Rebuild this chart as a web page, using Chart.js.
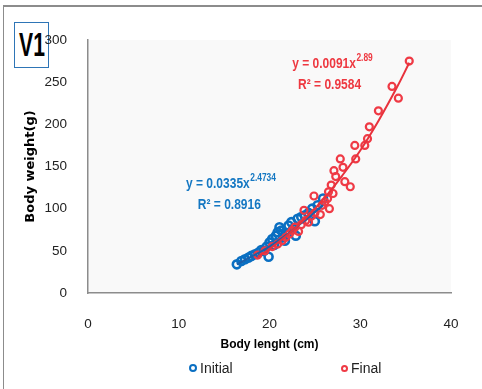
<!DOCTYPE html>
<html>
<head>
<meta charset="utf-8">
<script src="https://cdn.jsdelivr.net/npm/chart.js@4.4.1/dist/chart.umd.min.js"></script>
<style>
  html, body { margin: 0; padding: 0; background: #fff; overflow: hidden; }
  #wrap { position: relative; width: 482px; height: 389px; }
  #frame { position: absolute; left: 3px; top: 5px; width: 520px; height: 420px;
           border-left: 1.5px solid #8c8c8c; border-top: 2px solid #8c8c8c; }
  #tag { position: absolute; left: 14px; top: 22px; width: 33px; height: 44px;
         border: 1.5px solid #2e75b6; background: #fff; overflow: hidden; }
  #tag span { position: absolute; left: -33.5px; width: 100px; top: 3px; text-align: center;
              font: bold 33px "Liberation Sans", sans-serif; line-height: 38px;
              color: #000; transform: scaleX(0.64); }
  .leg { position: absolute; top: 360px; font: 14px "Liberation Sans", sans-serif;
         color: #222; white-space: nowrap; }
  .leg i { display: inline-block; border-radius: 50%; vertical-align: middle; margin-right: 3px;
           position: relative; top: -1px; }
  canvas { position: absolute; left: 0; top: 0; }
</style>
</head>
<body>
<div id="wrap">
  <div id="frame"></div>
  <div id="tag"><span>V1</span></div>
  <canvas id="chart"></canvas>
  <div id="legend"></div>
</div>
<script>
// Initial: body length (cm) / body weight (g)
const initialLength = [16.4, 16.9, 17.3, 17.7, 18.0, 18.4, 18.8, 19.1, 19.4, 19.7, 19.9, 20.0, 20.3, 20.5, 20.7, 20.9, 21.1, 21.3, 21.5, 21.7, 21.9, 22.1, 22.4, 22.6, 22.9, 23.1, 23.5, 23.9, 24.3, 24.7, 25.0, 25.3, 25.9];
const initialWeight = [34, 38, 40, 42, 44, 46, 48, 51, 50, 55, 43, 60, 64, 57, 68, 72, 78, 74, 66, 62, 70, 80, 84, 76, 68, 88, 90, 92, 95, 100, 85, 104, 112];

// Final
const finalLength = [18.7, 19.5, 20.3, 20.9, 21.4, 21.8, 22.2, 22.5, 22.8, 23.2, 23.5, 23.8, 24.0, 24.3, 24.6, 24.9, 25.0, 25.6, 25.8, 26.1, 26.4, 26.5, 26.6, 26.8, 27.0, 27.1, 27.3, 27.8, 28.1, 28.3, 28.9, 29.4, 29.5, 30.5, 30.8, 31.0, 32.0, 33.5, 34.2, 35.4];
const finalWeight = [45, 50, 55, 58, 62, 66, 70, 74, 78, 73, 81, 98, 86, 84, 91, 115, 95, 93, 104, 108, 112, 120, 100, 128, 118, 145, 138, 159, 149, 132, 126, 175, 159, 175, 183, 197, 216, 245, 231, 275];

// power trend lines
const initialTrendX = [16.4, 18, 20, 22, 24, 25.9];
const initialTrendY = [34, 43, 55, 70, 87, 104];
const finalTrendX = [18.7, 20, 22, 24, 26, 28, 30, 32, 34, 35.4];
const finalTrendY = [43, 52, 69, 89, 112, 139, 169, 204, 243, 273];

const seriesNames = ["Initial", "Final"];
const xTicks = [0, 10, 20, 30, 40];
const yTicks = [0, 50, 100, 150, 200, 250, 300];

const blue = "#0a6fc2";
const red = "#ef3a45";
const tickFont = '"Liberation Sans", sans-serif';

const toPoints = (xs, ys) => xs.map((x, i) => ({ x: x, y: ys[i] }));

const equations = [
  { main: "y = 0.0091x", sup: "2.89", second: "R² = 0.9584", x: 22.5, y: 272, x2: 23.15, y2: 247, color: "#ee3840" },
  { main: "y = 0.0335x", sup: "2.4734", second: "R² = 0.8916", x: 10.8, y: 129, x2: 12.1, y2: 105, color: "#1477c2" },
];

const plotBg = {
  id: "plotBg",
  beforeDraw(chart) {
    const { ctx, chartArea: a } = chart;
    ctx.save();
    ctx.fillStyle = "#f9f9f9";
    ctx.fillRect(a.left, a.top, a.right - a.left, a.bottom - a.top);
    ctx.restore();
  },
};

// narrow bold text like the original, by squeezing horizontally
function squeezedText(ctx, text, x, y, sx) {
  ctx.save();
  ctx.translate(x, y);
  ctx.scale(sx, 1);
  ctx.fillText(text, 0, 0);
  ctx.restore();
  return ctx.measureText(text).width * sx;
}

const eqLabels = {
  id: "eqLabels",
  afterDraw(chart) {
    const { ctx, scales } = chart;
    ctx.save();
    ctx.textBaseline = "middle";
    ctx.textAlign = "left";
    equations.forEach((e) => {
      const px = scales.x.getPixelForValue(e.x);
      const py = scales.y.getPixelForValue(e.y);
      ctx.fillStyle = e.color;
      ctx.font = 'bold 15px "Liberation Sans", sans-serif';
      const w = squeezedText(ctx, e.main, px, py, 0.8);
      ctx.font = 'bold 10.5px "Liberation Sans", sans-serif';
      squeezedText(ctx, e.sup, px + w + 0.5, py - 6, 0.8);
      ctx.font = 'bold 15px "Liberation Sans", sans-serif';
      squeezedText(ctx, e.second, scales.x.getPixelForValue(e.x2), scales.y.getPixelForValue(e.y2), 0.8);
    });
    ctx.restore();
  },
};

new Chart(document.getElementById("chart"), {
  type: "scatter",
  data: {
    datasets: [
      {
        label: "Final trend",
        type: "line",
        data: toPoints(finalTrendX, finalTrendY),
        borderColor: "#e8323c",
        borderWidth: 2,
        pointRadius: 0,
        tension: 0.4,
        fill: false,
      },
      {
        label: "Initial trend",
        type: "line",
        data: toPoints(initialTrendX, initialTrendY),
        borderColor: "#1b5fa9",
        borderWidth: 2,
        pointRadius: 0,
        tension: 0.4,
        fill: false,
      },
      {
        label: seriesNames[1],
        data: toPoints(finalLength, finalWeight),
        borderColor: red,
        backgroundColor: "rgba(255,255,255,0)",
        borderWidth: 2.2,
        pointRadius: 3.5,
      },
      {
        label: seriesNames[0],
        data: toPoints(initialLength, initialWeight),
        borderColor: blue,
        backgroundColor: "rgba(255,255,255,0)",
        borderWidth: 2.6,
        pointRadius: 4,
      },
    ],
  },
  options: {
    responsive: true,
    maintainAspectRatio: false,
    animation: false,
    layout: { padding: { top: 40, right: 31, bottom: 36, left: 0 } },
    plugins: {
      legend: { display: false },
      tooltip: { enabled: false },
    },
    scales: {
      x: {
        type: "linear",
        min: xTicks[0],
        max: xTicks[xTicks.length - 1],
        afterBuildTicks: (s) => { s.ticks = xTicks.map((v) => ({ value: v })); },
        afterFit: (s) => { s.height = 60; },
        grid: { display: false },
        border: { display: true, color: "#8c8c8c", width: 1.5 },
        ticks: {
          padding: 15,
          color: "#222",
          font: { family: tickFont, size: 13.5 },
        },
        title: {
          display: true,
          text: "Body lenght (cm)",
          color: "#000",
          padding: { top: 0, bottom: 1 },
          font: { family: '"Liberation Sans", sans-serif', size: 12, weight: "bold" },
        },
      },
      y: {
        type: "linear",
        min: yTicks[0],
        max: yTicks[yTicks.length - 1],
        afterBuildTicks: (s) => { s.ticks = yTicks.map((v) => ({ value: v })); },
        afterFit: (s) => { s.width = 88; },
        grid: { display: false },
        border: { display: true, color: "#8c8c8c", width: 1.5 },
        ticks: {
          padding: 13,
          color: "#222",
          font: { family: tickFont, size: 13.5 },
        },
        title: {
          display: true,
          text: "Body weight(g)",
          color: "#000",
          padding: { top: 23, bottom: 0 },
          font: { family: '"DejaVu Sans", sans-serif', size: 13, weight: "bold" },
        },
      },
    },
  },
  plugins: [plotBg, eqLabels],
});

// legend, laid out wide like the original
const legendPos = [189, 341];
const legendMark = [
  { color: blue, size: 4, border: 2.5 },
  { color: red, size: 3, border: 2 },
];
document.getElementById("legend").innerHTML = seriesNames
  .map((name, i) => {
    const m = legendMark[i];
    return `<div class="leg" style="left:${legendPos[i]}px"><i style="width:${m.size}px;height:${m.size}px;border:${m.border}px solid ${m.color}"></i>${name}</div>`;
  })
  .join("");
</script>
</body>
</html>
